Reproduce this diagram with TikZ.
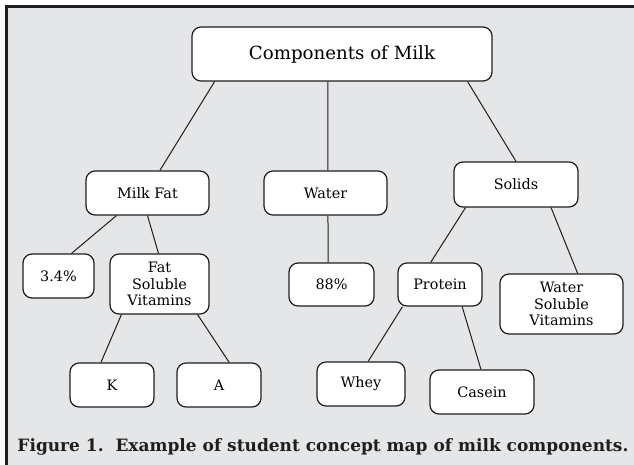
\documentclass[tikz,border=0pt]{standalone}
\usepackage{fontspec}
\setmainfont{DejaVu Serif}
\usetikzlibrary{calc}
\definecolor{bg}{RGB}{229,230,232}
\definecolor{ink}{RGB}{30,30,30}
\begin{document}
\begin{tikzpicture}[x=1pt,y=-1pt,
  box/.style={draw=ink, line width=1.2pt, fill=white, rounded corners=9pt, inner sep=0pt,
    font=\fontsize{14.4}{16.5}\selectfont, align=center},
  link/.style={draw=ink, line width=1pt}]
\useasboundingbox (0,0) rectangle (634,464);
\fill[white] (0,0) rectangle (634,464);
\draw[line width=2.2pt, draw=ink, fill=bg] (6.5,6.5) rectangle (660,490);

\node[box, minimum width=300pt, minimum height=54pt, font=\fontsize{18.2}{20}\selectfont] (cm) at (342,54) {Components of Milk};
\node[box, minimum width=123pt, minimum height=44pt] (mf) at (147.5,193) {Milk Fat};
\node[box, minimum width=123pt, minimum height=44pt] (water) at (325.5,193) {Water};
\node[box, minimum width=124pt, minimum height=45pt] (solids) at (516,184.5) {Solids};
\node[box, minimum width=71pt, minimum height=44pt] (p34) at (58.5,276) {3.4\%};
\node[box, minimum width=99pt, minimum height=60pt] (fsv) at (159.5,284) {Fat\\Soluble\\Vitamins};
\node[box, minimum width=85pt, minimum height=43pt] (p88) at (331.5,284.5) {88\%};
\node[box, minimum width=84pt, minimum height=43pt] (protein) at (440,284.5) {Protein};
\node[box, minimum width=123pt, minimum height=60pt] (wsv) at (561.5,304) {Water\\Soluble\\Vitamins};
\node[box, minimum width=84pt, minimum height=44pt] (k) at (112,385) {K};
\node[box, minimum width=84pt, minimum height=44pt] (a) at (219,385) {A};
\node[box, minimum width=88pt, minimum height=44pt] (whey) at (361,384) {Whey};
\node[box, minimum width=104pt, minimum height=44pt] (casein) at (482,392) {Casein};

\draw[link] ($(cm.south west)!0.077!(cm.south east)$) -- ($(mf.north west)!0.60!(mf.north east)$);
\draw[link] ($(cm.south west)!0.453!(cm.south east)$) -- ($(water.north west)!0.52!(water.north east)$);
\draw[link] ($(cm.south west)!0.917!(cm.south east)$) -- ($(solids.north west)!0.50!(solids.north east)$);
\draw[link] ($(mf.south west)!0.25!(mf.south east)$) -- ($(p34.north west)!0.68!(p34.north east)$);
\draw[link] ($(mf.south west)!0.50!(mf.south east)$) -- ($(fsv.north west)!0.49!(fsv.north east)$);
\draw[link] ($(water.south west)!0.52!(water.south east)$) -- ($(p88.north west)!0.46!(p88.north east)$);
\draw[link] ($(solids.south west)!0.097!(solids.south east)$) -- ($(protein.north west)!0.39!(protein.north east)$);
\draw[link] ($(solids.south west)!0.78!(solids.south east)$) -- ($(wsv.north west)!0.63!(wsv.north east)$);
\draw[link] ($(fsv.south west)!0.12!(fsv.south east)$) -- ($(k.north west)!0.37!(k.north east)$);
\draw[link] ($(fsv.south west)!0.88!(fsv.south east)$) -- ($(a.north west)!0.62!(a.north east)$);
\draw[link] ($(protein.south west)!0.06!(protein.south east)$) -- ($(whey.north west)!0.58!(whey.north east)$);
\draw[link] ($(protein.south west)!0.76!(protein.south east)$) -- ($(casein.north west)!0.49!(casein.north east)$);

\node[anchor=base, inner sep=0pt, text=ink, font=\fontsize{17}{19}\selectfont\bfseries] (cap) at (323,451)
  {Figure 1.\ \ Example of student concept map of milk components.};
\end{tikzpicture}
\end{document}
